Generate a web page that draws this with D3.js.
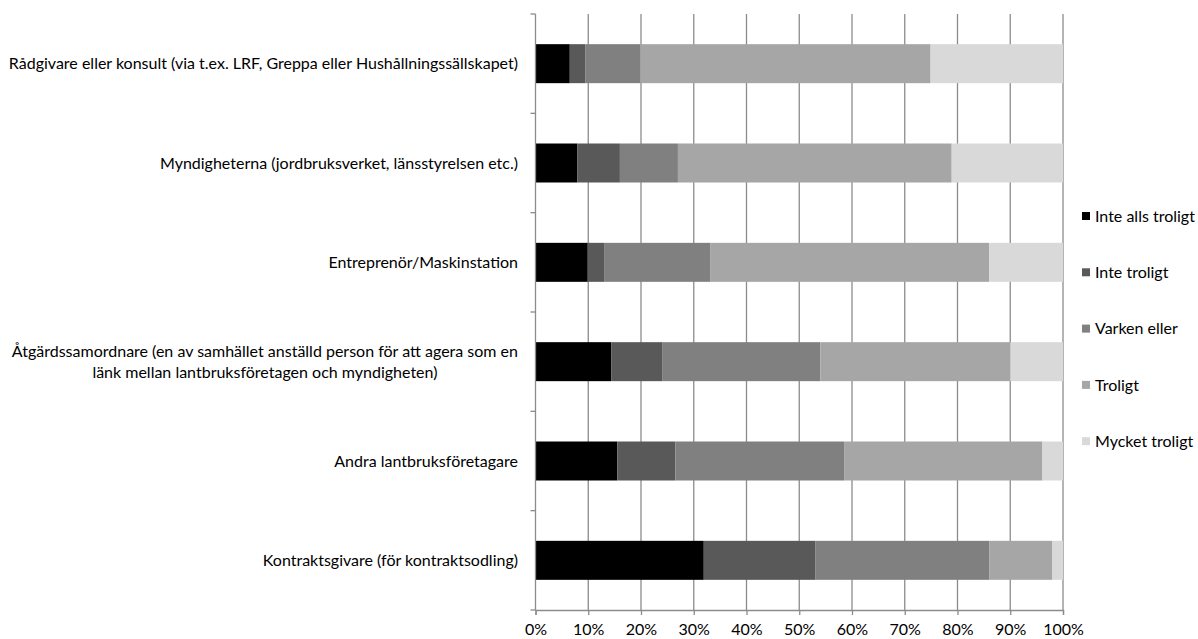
<!DOCTYPE html>
<html><head><meta charset="utf-8">
<script src="https://cdn.jsdelivr.net/npm/d3@7"></script>
<style>body{margin:0;background:#fff}svg{display:block}text{font-family:Lato,"Liberation Sans",Arial,sans-serif;fill:#000}</style>
</head><body><svg id="c" width="1198" height="639"></svg>
<script>
const categories = [
  ["Rådgivare eller konsult (via t.ex. LRF, Greppa eller Hushållningssällskapet)"],
  ["Myndigheterna (jordbruksverket, länsstyrelsen etc.)"],
  ["Entreprenör/Maskinstation"],
  ["Åtgärdssamordnare (en av samhället anställd person för att agera som en", "länk mellan lantbruksföretagen och myndigheten)"],
  ["Andra lantbruksföretagare"],
  ["Kontraktsgivare (för kontraktsodling)"]
];
const seriesNames = ["Inte alls troligt", "Inte troligt", "Varken eller", "Troligt", "Mycket troligt"];
const inteAlls  = [6.5, 7.9, 9.9, 14.4, 15.5, 31.9];
const inte      = [3.0, 8.1, 3.1, 9.6, 11.0, 21.2];
const varken    = [10.4, 11.0, 20.1, 30.0, 32.0, 32.9];
const troligt   = [55.0, 51.9, 52.9, 36.0, 37.6, 12.0];
const mycket    = [25.1, 21.1, 14.0, 10.0, 3.9, 2.0];
const tickLabels = ["0%","10%","20%","30%","40%","50%","60%","70%","80%","90%","100%"];
const colors = ["#000000", "#595959", "#808080", "#a6a6a6", "#d9d9d9"];

const seriesVals = [inteAlls, inte, varken, troligt, mycket];
const rows = categories.map((c, i) => {
  const o = {key: i};
  seriesNames.forEach((s, j) => o[s] = seriesVals[j][i]);
  return o;
});

const FS = 16;
const svg = d3.select("#c");
const x = d3.scaleLinear().domain([0, 100]).range([535.5, 1063]);
const yb = d3.scaleBand().domain(d3.range(categories.length)).range([14, 610]);

// gridlines
svg.append("g").selectAll("line").data(d3.range(10, 101, 10)).join("line")
  .attr("x1", d => x(d)).attr("x2", d => x(d)).attr("y1", 14).attr("y2", 610)
  .attr("stroke", "#8c8c8c").attr("stroke-width", 1.3);

const stacked = d3.stack().keys(seriesNames)(rows);
svg.append("g").selectAll("g").data(stacked).join("g")
  .attr("fill", (d, i) => colors[i])
  .selectAll("rect").data(d => d).join("rect")
  .attr("x", d => x(d[0])).attr("width", d => x(d[1]) - x(d[0]))
  .attr("y", (d, i) => yb(i) + yb.bandwidth()/2 - 19.5).attr("height", 39);

// x axis
const xAxis = d3.axisBottom(x).tickValues(d3.range(0, 101, 10)).tickFormat((d, i) => tickLabels[i]).tickSize(5).tickPadding(9);
const gx = svg.append("g").attr("transform", "translate(0,610)").call(xAxis);
gx.select(".domain").attr("stroke", "#8c8c8c").attr("stroke-width", 1.3);
gx.selectAll(".tick line").attr("stroke", "#8c8c8c").attr("stroke-width", 1.3);
gx.selectAll(".tick text").attr("font-size", FS).attr("font-family", "Lato, Liberation Sans, Arial, sans-serif").attr("fill", "#000");

// y axis line and boundary ticks
svg.append("line").attr("x1", x(0)).attr("x2", x(0)).attr("y1", 14).attr("y2", 610).attr("stroke", "#8c8c8c").attr("stroke-width", 1.3);
svg.append("g").selectAll("line").data(d3.range(categories.length + 1)).join("line")
  .attr("x1", x(0) - 5).attr("x2", x(0))
  .attr("y1", d => 14 + d * yb.step()).attr("y2", d => 14 + d * yb.step())
  .attr("stroke", "#8c8c8c").attr("stroke-width", 1.3);

// category labels
const labRight = 518;
categories.forEach((lines, i) => {
  const cy = yb(i) + yb.bandwidth()/2;
  const lh = 21;
  if (lines.length === 1) {
    svg.append("text").attr("x", labRight).attr("y", cy).attr("dy", "0.35em")
      .attr("text-anchor", "end").attr("font-size", FS).text(lines[0]);
  } else {
    const t1 = svg.append("text").attr("x", labRight).attr("y", cy - lh/2).attr("dy", "0.35em")
      .attr("text-anchor", "end").attr("font-size", FS).text(lines[0]);
    const w = t1.node().getComputedTextLength();
    const mid = labRight - w/2;
    lines.slice(1).forEach((l, k) => {
      svg.append("text").attr("x", mid).attr("y", cy + lh/2 + k*lh).attr("dy", "0.35em")
        .attr("text-anchor", "middle").attr("font-size", FS).text(l);
    });
  }
});

// legend
const lg = svg.append("g");
seriesNames.forEach((s, i) => {
  const ly = 216 + i * 56.3;
  lg.append("rect").attr("x", 1082).attr("y", ly - 4).attr("width", 8).attr("height", 8).attr("fill", colors[i]);
  lg.append("text").attr("x", 1095).attr("y", ly).attr("dy", "0.35em").attr("font-size", FS).text(s);
});
</script></body></html>
